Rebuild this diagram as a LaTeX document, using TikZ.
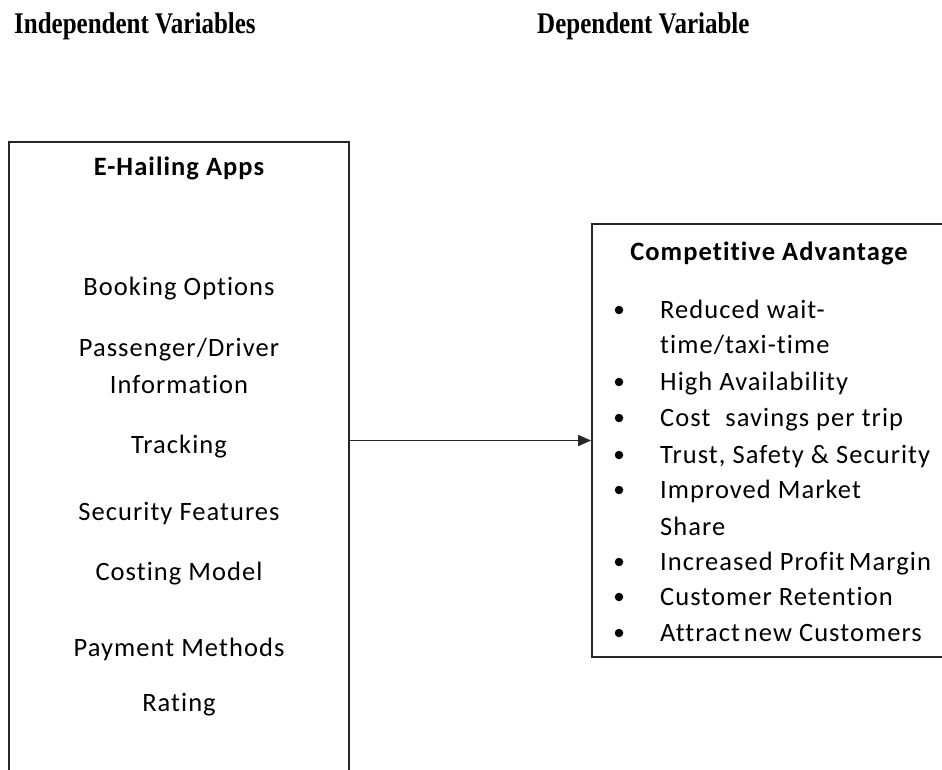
\documentclass[tikz,border=0pt]{standalone}
\usepackage{fontspec}
\setmainfont{Carlito}
\newfontfamily\headfont{Liberation Serif}
\newfontfamily\boxfont[LetterSpace=4,Ligatures=CommonOff]{Carlito}
\usetikzlibrary{arrows.meta}

\begin{document}
\begin{tikzpicture}[x=1pt,y=-1pt,
  frame/.style={draw=black!85, line width=1.8pt, inner sep=0, rectangle},
  head/.style={font=\headfont\bfseries\fontsize{25}{28}\selectfont, anchor=base west, inner sep=0, yscale=1.2, transform shape},
  item/.style={font=\boxfont\fontsize{26.5}{30}\selectfont, inner sep=0, anchor=base},
  boxtitle/.style={font=\boxfont\bfseries\fontsize{26.5}{30}\selectfont, inner sep=0, anchor=base},
  listitem/.style={font=\boxfont\fontsize{26.5}{30}\selectfont, inner sep=0, anchor=base west},
  dot/.style={circle, fill=black, inner sep=0, minimum size=8.5pt},
  link/.style={-{Triangle[length=13pt,width=11pt]}, line width=1.6pt, draw=black!85}]
\useasboundingbox (0,0) rectangle (942,769);
\clip (0,0) rectangle (942,769);

% column headings
\node[head] (hind) at (14,33) {Independent Variables};
\node[head] (hdep) at (537,33) {Dependent Variable};

% the two boxes
\node[frame, minimum width=340pt, minimum height=648pt] (ebox) at (179,466) {};
\node[frame, minimum width=368pt, minimum height=433pt] (rbox) at (776,440.5) {};

% independent variables
\node[boxtitle] (t1) at (179,175) {E-Hailing Apps};
\node[item] (i1) at (179,295) {Booking Options};
\node[item] (i2) at (179,356) {Passenger/Driver};
\node[item] (i2b) at (179,393) {Information};
\node[item] (i3) at (179,453) {Tracking};
\node[item] (i4) at (179,520) {Security Features};
\node[item] (i5) at (179,580) {Costing Model};
\node[item] (i6) at (179,656) {Payment Methods};
\node[item] (i7) at (179,711) {Rating};

% dependent variable
\node[boxtitle] (t2) at (769,260) {Competitive Advantage};
\foreach \n/\yy/\txt in {
    a/318/{Reduced wait-},
    c/390/{High Availability},
    d/426/{Cost\hspace{0.3em} savings per trip},
    e/463/{Trust, Safety \& Security},
    f/498/{Improved Market},
    h/570/{Increased Profit\hspace{-0.1em} Margin},
    k/605/{Customer Retention},
    m/641/{Attract\hspace{-0.12em} new Customers}} {
  \node[dot] (b\n) at (619,\yy-8) {};
  \node[listitem] (l\n) at (660,\yy) {\txt};
}
\node[listitem] (lb) at (660,353) {time/taxi-time};
\node[listitem] (lg) at (660,535) {Share};

% connector
\draw[link] (rbox.west -| ebox.east) -- (rbox.west);
\end{tikzpicture}
\end{document}
